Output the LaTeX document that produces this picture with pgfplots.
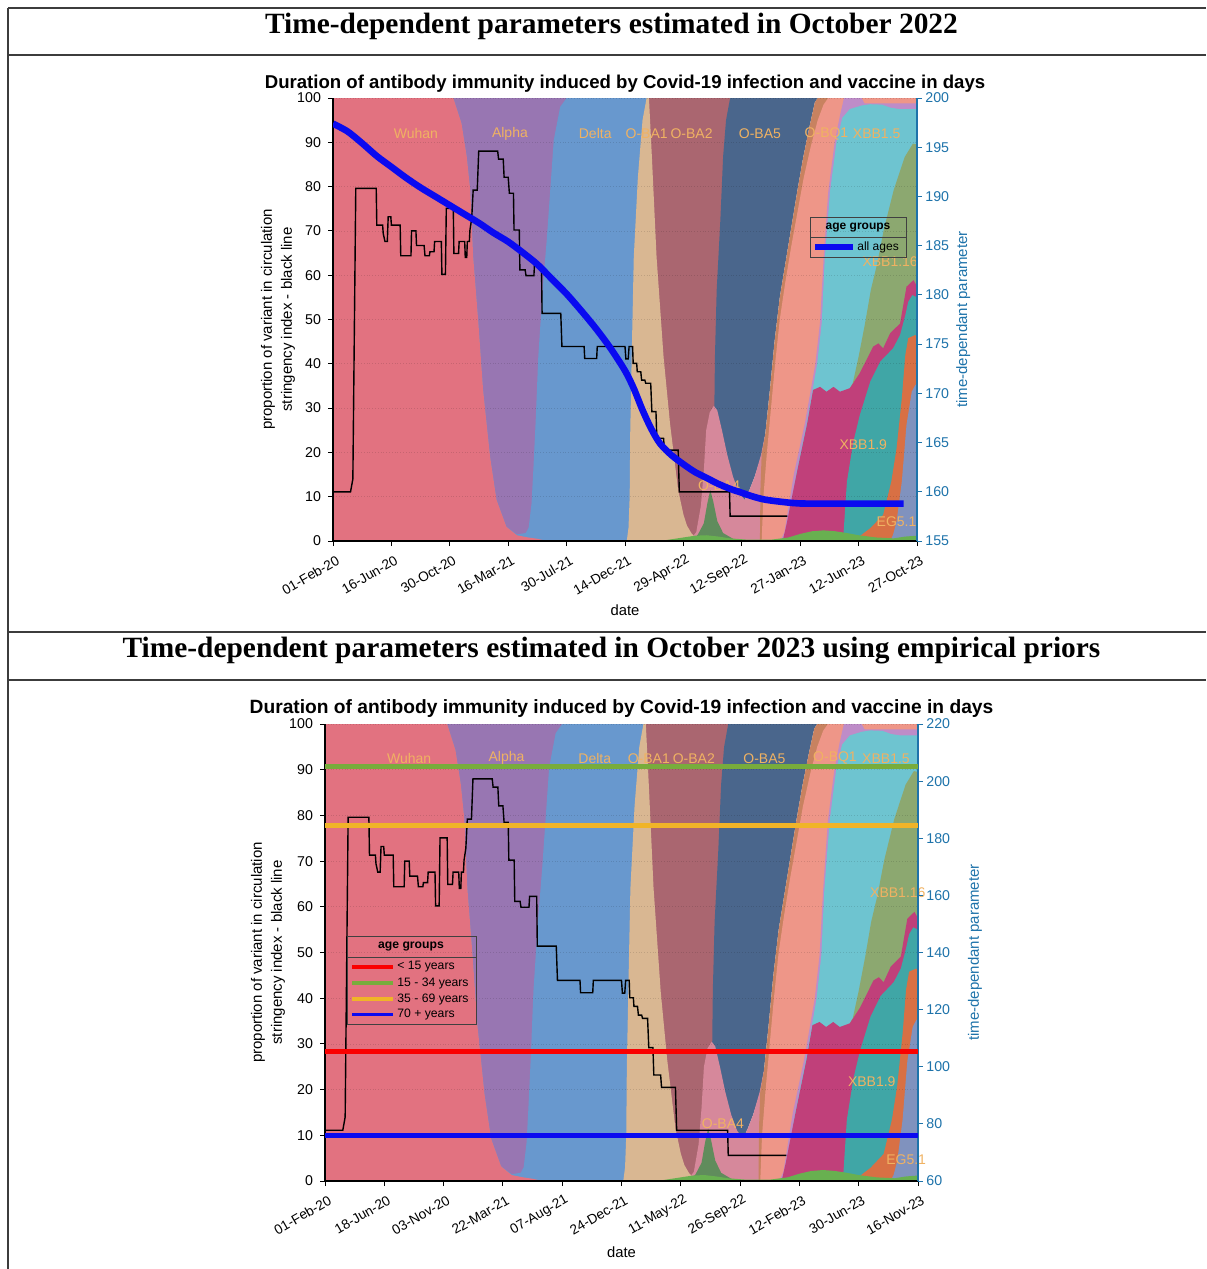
\documentclass[border=0pt]{standalone}
\usepackage{fontspec}
\setmainfont{Liberation Sans}
\newfontfamily\serifT{Liberation Serif}
\usepackage{pgfplots}
\pgfplotsset{compat=1.18}

\definecolor{cWuhan}{RGB}{226,114,128}
\definecolor{cAlpha}{RGB}{152,118,178}
\definecolor{cDelta}{RGB}{104,152,206}
\definecolor{cBAone}{RGB}{217,183,146}
\definecolor{cBAtwo}{RGB}{170,102,112}
\definecolor{cBAfour}{RGB}{214,136,155}
\definecolor{cDgreen}{RGB}{96,140,92}
\definecolor{cBAfive}{RGB}{74,102,140}
\definecolor{cBrown}{RGB}{200,130,96}
\definecolor{cSalmon}{RGB}{238,150,136}
\definecolor{cLilac}{RGB}{190,140,200}
\definecolor{cCyan}{RGB}{110,196,208}
\definecolor{cOlive}{RGB}{140,168,112}
\definecolor{cMagenta}{RGB}{192,64,122}
\definecolor{cTeal}{RGB}{64,166,166}
\definecolor{cOrange}{RGB}{216,112,68}
\definecolor{cGreyblue}{RGB}{128,146,190}
\definecolor{cLgreen}{RGB}{104,176,80}
\definecolor{cLab}{RGB}{240,178,98}
\definecolor{rblue}{RGB}{30,115,170}
\definecolor{lineblue}{RGB}{10,10,240}
\definecolor{lgreen}{RGB}{120,172,60}
\definecolor{lorange}{RGB}{240,180,40}
\definecolor{lred}{RGB}{250,0,0}
\definecolor{frame}{RGB}{60,60,60}

\pgfplotstableread{
x v
0 11.1
3.0 11.1
3.4 14
3.9 79.6
7.4 79.6
7.5 71.3
8.5 71.3
8.6 69.4
8.9 67.6
9.3 67.6
9.45 73.2
9.9 73.2
10.0 71.3
11.5 71.3
11.6 64.4
13.35 64.4
13.45 70.0
14.2 70.0
14.3 66.7
15.6 66.7
15.75 64.4
16.5 64.4
16.6 65.3
17.3 65.3
17.4 67.6
18.55 67.6
18.65 60.2
19.25 60.2
19.4 75.1
20.6 75.1
20.7 64.9
21.5 64.9
21.6 67.6
22.55 67.6
22.65 64.0
22.9 64.0
23.0 67.6
23.35 67.6
23.45 70.2
23.75 72.8
24.0 79.2
24.7 79.2
24.95 88.0
28.2 88.0
28.35 86.2
29.15 86.2
29.3 82.1
30.0 82.1
30.2 78.5
30.9 78.5
31.0 70.2
31.9 70.2
32.0 61.2
32.9 61.2
33.05 59.9
34.4 59.9
34.5 62.3
35.7 62.3
35.8 51.4
39.0 51.4
39.2 43.9
43.0 43.9
43.1 41.2
45.15 41.2
45.25 43.9
50.0 43.9
50.15 41.1
50.55 41.1
50.7 43.9
51.3 43.9
51.4 40.1
52.0 40.1
52.1 38.2
52.7 38.2
52.85 36.3
53.4 36.3
53.55 35.6
54.4 35.6
54.6 29.2
55.3 29.2
55.45 23.2
56.6 23.2
56.75 20.5
59.1 20.5
59.3 11.1
67.9 11.1
68.0 5.6
77.8 5.6
}\stringency

\newcommand{\variantareas}{%
\addplot[fill=cAlpha,draw=none] coordinates {(0,0) (0,100) (45,100) (45,0)} -- cycle;
\addplot[fill=cDelta,draw=none] coordinates {(0,0) (0,100) (20.6,100) (22.0,94.3) (22.9,86.8) (23.5,79.2) (24.0,64.2) (24.9,49.1) (25.7,34.1) (26.9,19.0) (28.0,9.3) (29.7,3.2) (31.5,1.5) (33.0,1.8) (33.5,3) (34.0,8.5) (34.3,16) (34.7,27) (35.15,41.6) (35.9,56.7) (36.6,68) (37.2,79.2) (37.8,90.5) (38.9,98) (40.0,100) (56,100) (56,0)} -- cycle;
\addplot[fill=cWuhan,draw=none] coordinates {(0,0) (0,100) (20.6,100) (22.0,94.3) (22.9,86.8) (23.5,79.2) (24.0,64.2) (24.9,49.1) (25.7,34.1) (26.9,19.0) (28.0,9.3) (29.7,3.2) (31.5,1.3) (33.4,0.8) (35,0.5) (36.6,0)} -- cycle;
\addplot[fill=cBAtwo,draw=none] coordinates {(53.8,0) (53.8,100) (70,100) (70,0)} -- cycle;
\addplot[fill=cBAone,draw=none] coordinates {(50.3,0) (50.6,3) (50.8,10) (50.9,25) (51.2,45) (51.5,64) (52.2,82) (53.0,95) (53.7,100) (54.1,100) (54.6,86.8) (55.4,64.2) (56.6,41.6) (57.7,26.6) (59.1,11.5) (60.0,6) (60.6,3.5) (61.4,1.7) (62.3,0.5) (63.5,0)} -- cycle;
\addplot[fill=cBAfive,draw=none] coordinates {(64.5,0) (65.0,20) (65.3,30.3) (65.4,41.6) (65.7,56.7) (66.3,71.7) (66.8,86.8) (67.3,95) (68.0,100) (83,100) (82.5,99) (81.5,93) (80.5,86.5) (79.5,79) (78.5,71) (77.5,63) (76.5,55) (75.6,45) (74.8,34) (74.0,24) (73.3,19) (72.2,14.5) (71.3,11.5) (70.5,9.3) (70,0)} -- cycle;
\addplot[fill=cBAfour,draw=none] coordinates {(61,0) (62.2,2) (63,8) (63.5,16) (63.9,25) (64.5,29) (65.2,30.5) (65.8,29.5) (66.6,25) (67.5,19.5) (68.5,14.5) (69.5,11) (70.5,9.3) (71.3,11.5) (72.2,14.5) (73.3,19.5) (74.0,24) (74.6,0)} -- cycle;
\addplot[fill=cDgreen,draw=none] coordinates {(61.5,0) (62.5,1.5) (63.5,4) (64.1,8.5) (64.6,11.5) (65.1,9) (65.8,4.5) (66.8,1.8) (68.5,0.5) (69.5,0)} -- cycle;
\addplot[fill=cBrown,draw=none] coordinates {(73.1,0) (73.2,12) (73.4,19.5) (74.0,24) (74.8,34) (75.6,45) (76.5,55) (77.5,63) (78.5,71) (79.5,79) (80.5,86.5) (81.5,93) (82.5,99) (83,100) (100,100) (100,0)} -- cycle;
\addplot[fill=cSalmon,draw=none] coordinates {(73.4,0) (73.7,10) (74.3,20) (75.0,30) (75.7,40) (76.5,50) (77.4,58) (78.4,66) (79.5,74) (80.6,82) (81.8,89) (83.0,95) (84.0,98.5) (84.8,100) (100,100) (100,0)} -- cycle;
\addplot[fill=cLilac,draw=none] coordinates {(76.6,0) (77.3,2) (78.9,15) (80.8,26.6) (81.8,34) (82.6,40) (83.4,49.4) (84.0,63.7) (84.8,78.8) (85.9,90) (86.8,96) (87.5,100) (90.5,100) (91,98.8) (100,98.8) (100,0)} -- cycle;
\addplot[fill=cCyan,draw=none] coordinates {(77.0,0) (77.7,2) (79.3,15) (81.1,26.6) (82.1,34) (82.9,40) (83.7,49.4) (84.2,63.7) (85.1,78.8) (86.2,90) (87.2,95.5) (88.5,97.5) (90.5,98.3) (92,98.6) (94,98.5) (95.5,97.8) (97,97.5) (100,97.5) (100,0)} -- cycle;
\addplot[fill=cOlive,draw=none] coordinates {(88.5,0) (88.5,34.5) (89.0,35.6) (90.0,41.6) (91.1,49.1) (92.1,56.7) (93.2,62.7) (94.3,70.2) (96.0,79.2) (97.9,86.7) (99.3,89.7) (100,89.5) (100,0)} -- cycle;
\addplot[fill=cMagenta,draw=none] coordinates {(77.0,0) (77.7,4) (79.4,15.3) (81.2,26.6) (82.2,34.1) (83.4,34.8) (84.5,33.7) (85.7,34.8) (86.8,33.7) (88.5,34.5) (90.2,37.9) (92.5,43.9) (93.4,44.6) (94.2,43.5) (95.4,46.9) (97.1,49.1) (98.2,57.4) (99.4,58.9) (100,57.5) (100,0)} -- cycle;
\addplot[fill=cTeal,draw=none] coordinates {(87.2,0) (87.4,1.4) (88.0,13.4) (89.1,22.4) (90.2,28.4) (92.0,36) (93.7,40.5) (95.9,43.5) (97.1,46.5) (98.0,51) (98.5,54) (99.2,55.5) (100,55) (100,0)} -- cycle;
\addplot[fill=cOrange,draw=none] coordinates {(89.1,0) (92.0,2.9) (94.2,5.9) (95.6,13.4) (96.5,20.9) (97.4,32.2) (98.0,42.0) (98.5,45.8) (99.7,46.5) (100,46) (100,0)} -- cycle;
\addplot[fill=cGreyblue,draw=none] coordinates {(95.4,0) (95.9,1.4) (96.5,4.4) (97.4,13.4) (98.2,26.2) (99.1,33.7) (99.7,35.2) (100,35.5) (100,0)} -- cycle;
\addplot[fill=cLgreen,draw=none] coordinates {(56,0) (58,0.4) (60,0.8) (62,1.2) (64,1.3) (66,1.0) (68,0.6) (71,0.3) (75,0.3) (78,0.8) (80,1.6) (82,2.2) (84,2.4) (86,2.2) (88,1.8) (90,1.3) (93,0.8) (96,0.6) (98,1.0) (100,1.2) (100,0)} -- cycle;
\addplot[black, line width=0.7pt] table[x=x,y=v] {\stringency};
}

\tikzset{vlab/.style={font=\fontsize{7}{8}\selectfont, text=cLab, inner sep=0pt}}

\pgfplotsset{
  leftax/.style={scale only axis, anchor=south west,
    xmin=0,xmax=100,ymin=0,ymax=100, axis on top, clip mode=individual,
    axis x line*=bottom, axis y line*=left,
    tick align=outside, major tick length=2.5pt,
    tick style={black, line width=0.5pt}, axis line style={black, line width=0.6pt},
    ytick={0,10,...,100}, xtick={0,10,...,100},
    ymajorgrids, major grid style={densely dotted, black, opacity=0.12},
    ticklabel style={font=\fontsize{7.1}{8.5}\selectfont},
    xticklabel style={xshift=3.5pt, yshift=-6pt, rotate=30, anchor=east, inner sep=1pt, font=\fontsize{6.85}{8}\selectfont},
    /pgf/number format/assume math mode=true,
    xlabel={date},
    ylabel={proportion of variant in circulation\\stringency index - black line},
    title={Duration of antibody immunity induced by Covid-19 infection and vaccine in days},
  },
  rightax/.style={scale only axis, anchor=south west,
    xmin=0,xmax=100, axis x line=none, axis y line*=right,
    tick align=outside, major tick length=2.5pt,
    tick style={rblue, line width=0.5pt}, axis line style={rblue, line width=0.6pt},
    ticklabel style={font=\fontsize{7.1}{8.5}\selectfont, text=rblue, inner sep=1.5pt},
    /pgf/number format/assume math mode=true,
    ylabel={time-dependant parameter},
  },
}

\begin{document}
\begin{tikzpicture}
\path[use as bounding box] (0pt,0pt) rectangle (603pt,-634.5pt);

% ---------------- panel 1 ----------------
\begin{axis}[leftax, at={(166.5pt,-270.5pt)}, width=292pt, height=221.5pt,
  xticklabels={01-Feb-20,16-Jun-20,30-Oct-20,16-Mar-21,30-Jul-21,14-Dec-21,29-Apr-22,12-Sep-22,27-Jan-23,12-Jun-23,27-Oct-23},
  every axis x label/.style={at={(axis description cs:0.5,-0.156)}, anchor=center, font=\fontsize{7.4}{9}\selectfont},
  every axis y label/.style={at={(axis description cs:-0.094,0.5)}, rotate=90, anchor=center, align=center, font=\fontsize{7.5}{10}\selectfont},
  every axis title/.style={at={(axis description cs:0.5,1.032)}, anchor=center, font=\bfseries\fontsize{9.3}{11}\selectfont},
]
\variantareas
\node[vlab] at (axis cs:14.2,92) {Wuhan};
\node[vlab] at (axis cs:30.3,92) {Alpha};
\node[vlab] at (axis cs:44.9,92) {Delta};
\node[vlab] at (axis cs:53.7,92) {O-BA1};
\node[vlab] at (axis cs:61.4,92) {O-BA2};
\node[vlab] at (axis cs:73.1,92) {O-BA5};
\node[vlab] at (axis cs:84.5,92) {O-BQ1};
\node[vlab] at (axis cs:93.1,92) {XBB1.5};
\node[vlab] at (axis cs:95.4,63) {XBB1.16};
\node[vlab] at (axis cs:90.8,21.7) {XBB1.9};
\node[vlab] at (axis cs:66.1,12.6) {O-BA4};
\node[vlab] at (axis cs:96.5,4.4) {EG5.1};
\end{axis}
\begin{axis}[rightax, at={(166.5pt,-270.5pt)}, width=292pt, height=221.5pt,
  ymin=155, ymax=200, ytick={155,160,...,200},
  every axis y label/.style={at={(axis description cs:1.079,0.5)}, rotate=90, anchor=center, font=\fontsize{7.5}{9}\selectfont, text=rblue},
]
\addplot[lineblue, line width=3.3pt, smooth] coordinates {(0,197.4) (2.5,196.6) (5,195.4) (7.5,194.1) (10,193.0) (12.5,191.9) (15,190.9) (17.5,190.0) (20,189.1) (22.5,188.2) (25,187.3) (27.5,186.3) (30,185.4) (32.5,184.3) (35,183.1) (37.5,181.6) (40,180.1) (42.5,178.4) (45,176.6) (47.5,174.6) (50,172.3) (51.5,170.5) (53,168.3) (54.5,166.4) (56,164.9) (58,163.7) (60,162.8) (62,162.0) (64,161.4) (66,160.8) (68,160.3) (70,159.9) (72,159.5) (74,159.2) (76.5,159.0) (79,158.85) (82,158.8) (97.7,158.8)};
\end{axis}

% ---------------- panel 2 ----------------
\begin{axis}[leftax, at={(162.5pt,-590.5pt)}, width=296.5pt, height=228.5pt,
  xticklabels={01-Feb-20,18-Jun-20,03-Nov-20,22-Mar-21,07-Aug-21,24-Dec-21,11-May-22,26-Sep-22,12-Feb-23,30-Jun-23,16-Nov-23},
  every axis x label/.style={at={(axis description cs:0.5,-0.155)}, anchor=center, font=\fontsize{7.4}{9}\selectfont},
  every axis y label/.style={at={(axis description cs:-0.096,0.5)}, rotate=90, anchor=center, align=center, font=\fontsize{7.5}{10}\selectfont},
  every axis title/.style={at={(axis description cs:0.5,1.033)}, anchor=center, font=\bfseries\fontsize{9.6}{11}\selectfont},
]
\variantareas
\node[vlab] at (axis cs:14.2,92.5) {Wuhan};
\node[vlab] at (axis cs:30.6,92.5) {Alpha};
\node[vlab] at (axis cs:45.5,92.5) {Delta};
\node[vlab] at (axis cs:54.6,92.5) {O-BA1};
\node[vlab] at (axis cs:62.2,92.5) {O-BA2};
\node[vlab] at (axis cs:74.1,92.5) {O-BA5};
\node[vlab] at (axis cs:86.0,92.5) {O-BQ1};
\node[vlab] at (axis cs:94.6,92.5) {XBB1.5};
\node[vlab] at (axis cs:96.6,63) {XBB1.16};
\node[vlab] at (axis cs:92.2,21.7) {XBB1.9};
\node[vlab] at (axis cs:67.1,12.6) {O-BA4};
\node[vlab] at (axis cs:98.0,4.6) {EG5.1};
\end{axis}
\begin{axis}[rightax, at={(162.5pt,-590.5pt)}, width=296.5pt, height=228.5pt,
  ymin=60, ymax=220, ytick={60,80,...,220},
  every axis y label/.style={at={(axis description cs:1.096,0.5)}, rotate=90, anchor=center, font=\fontsize{7.5}{9}\selectfont, text=rblue},
]
\addplot[lgreen, line width=2.5pt] coordinates {(0,205) (100,205)};
\addplot[lorange, line width=2.5pt] coordinates {(0,184.3) (100,184.3)};
\addplot[lred, line width=2.5pt] coordinates {(0,105.2) (100,105.2)};
\addplot[lineblue, line width=2.5pt] coordinates {(0,75.8) (100,75.8)};
\end{axis}

% ---------------- frame, headings, legends (px units) ----------------
\begin{scope}[x=0.5pt,y=-0.5pt]
\draw[frame, line width=0.75pt] (8,8) -- (1206,8);
\draw[frame, line width=0.75pt] (8,55) -- (1206,55);
\draw[frame, line width=0.75pt] (8,632) -- (1206,632);
\draw[frame, line width=0.75pt] (8,680) -- (1206,680);
\draw[frame, line width=0.75pt] (8,8) -- (8,1269);
\node[font=\serifT\bfseries\fontsize{14.7}{17}\selectfont, inner sep=0pt] at (611.5,26) {Time-dependent parameters estimated in October 2022};
\node[font=\serifT\bfseries\fontsize{14.7}{17}\selectfont, inner sep=0pt] at (611.5,651) {Time-dependent parameters estimated in October 2023 using empirical priors};
% legend panel 1
\draw[black!75, line width=0.5pt] (810,217) rectangle (906,257);
\draw[black!75, line width=0.5pt] (810,237.5) -- (906,237.5);
\node[font=\bfseries\fontsize{6}{7}\selectfont, inner sep=0pt] at (858,227.5) {age groups};
\draw[lineblue, line width=3pt] (815,247) -- (853,247);
\node[font=\fontsize{6}{7}\selectfont, anchor=west, inner sep=0pt] at (857,247) {all ages};
% legend panel 2
\draw[black!75, line width=0.5pt] (347,936) rectangle (476,1024);
\draw[black!75, line width=0.5pt] (347,957) -- (476,957);
\node[font=\bfseries\fontsize{6.1}{7}\selectfont, inner sep=0pt] at (411,946.5) {age groups};
\draw[lred, line width=1.7pt] (352,967) -- (393,967);
\draw[lgreen, line width=1.7pt] (352,983) -- (393,983);
\draw[lorange, line width=1.7pt] (352,999) -- (393,999);
\draw[lineblue, line width=1.7pt] (352,1014.5) -- (393,1014.5);
\node[font=\fontsize{6.1}{7}\selectfont, anchor=west, inner sep=0pt] at (397,967) {< 15 years};
\node[font=\fontsize{6.1}{7}\selectfont, anchor=west, inner sep=0pt] at (397,983) {15 - 34 years};
\node[font=\fontsize{6.1}{7}\selectfont, anchor=west, inner sep=0pt] at (397,999) {35 - 69 years};
\node[font=\fontsize{6.1}{7}\selectfont, anchor=west, inner sep=0pt] at (397,1014.5) {70 + years};
\end{scope}
\end{tikzpicture}
\end{document}
